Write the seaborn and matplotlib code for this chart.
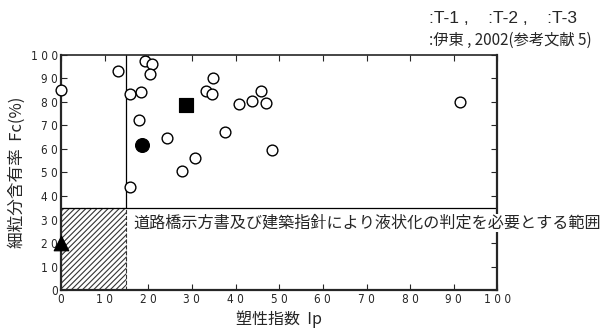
import pandas as pd
import matplotlib.pyplot as plt
import seaborn as sns
from matplotlib.patches import Rectangle

# Data (Ip = plasticity index, Fc = fines content %)
ito_ip = [0, 13, 15.8, 18.3, 19.3, 20.9, 20.3, 17.8, 15.8, 24.2, 27.8, 30.8,
          33.3, 34.6, 34.9, 37.6, 40.8, 43.8, 45.8, 46.9, 48.4, 91.5]
ito_fc = [85.2, 93.2, 83.3, 84.3, 97.3, 96.3, 91.8, 72.5, 43.8, 64.7, 50.5, 56.2,
          84.7, 83.5, 90.3, 67.4, 79.0, 80.4, 84.7, 79.4, 59.4, 79.9]
t1_ip, t1_fc = [18.6], [61.6]
t2_ip, t2_fc = [28.7], [78.9]
t3_ip, t3_fc = [0.0], [20.0]

tick_vals = list(range(0, 101, 10))
tick_labels = [' '.join(str(v)) for v in tick_vals]

ito = pd.DataFrame({'Ip': ito_ip, 'Fc': ito_fc})
t1 = pd.DataFrame({'Ip': t1_ip, 'Fc': t1_fc})
t2 = pd.DataFrame({'Ip': t2_ip, 'Fc': t2_fc})
t3 = pd.DataFrame({'Ip': t3_ip, 'Fc': t3_fc})

sns.set_style('ticks')
plt.rcParams['font.family'] = ['Noto Sans CJK JP', 'DejaVu Sans']
plt.rcParams['hatch.linewidth'] = 0.8

fig = plt.figure(figsize=(6.13, 3.33), dpi=100)
ax = fig.add_axes([0.0995, 0.129, 0.712, 0.706])

# hatched zone (Ip < 15, Fc < 35)
ax.add_patch(Rectangle((0, 0), 15, 35, facecolor='white', edgecolor='#333333',
                       hatch='//////', linestyle='--', linewidth=0.8, zorder=1))
ax.plot([0, 100], [35, 35], color='black', lw=0.9, zorder=2)
ax.plot([15, 15], [35, 100], color='black', lw=0.9, zorder=2)

sns.scatterplot(data=ito, x='Ip', y='Fc', ax=ax, marker='o', s=60,
                facecolor='white', edgecolor='black', linewidth=1.0, zorder=5, clip_on=False)
sns.scatterplot(data=t1, x='Ip', y='Fc', ax=ax, marker='o', s=100,
                color='black', edgecolor='black', zorder=5)
sns.scatterplot(data=t2, x='Ip', y='Fc', ax=ax, marker='s', s=110,
                color='black', edgecolor='black', zorder=5)
sns.scatterplot(data=t3, x='Ip', y='Fc', ax=ax, marker='^', s=110,
                color='black', edgecolor='black', zorder=6, clip_on=False)

ax.set_xlim(0, 100)
ax.set_ylim(0, 100)
ax.set_xticks(tick_vals)
ax.set_yticks(tick_vals)
ax.set_xticklabels(tick_labels, fontsize=8.5, family='DejaVu Sans', fontstretch='condensed')
ax.set_yticklabels(tick_labels, fontsize=8.5, family='DejaVu Sans', fontstretch='condensed')
ax.tick_params(direction='in', top=True, right=True, length=4, width=0.8, pad=2)
for s in ax.spines.values():
    s.set_linewidth(1.6)
ax.spines['top'].set_linewidth(1.2)

ax.set_xlabel('塑性指数  Ip', fontsize=11.5, labelpad=3)
ax.set_ylabel('細粒分含有率  Fc(%)', fontsize=12, labelpad=4)

ax.text(16.5, 28.5, '道路橋示方書及び建築指針により液状化の判定を必要とする範囲',
        fontsize=11.6, va='center', ha='left', clip_on=False, zorder=7,
        bbox=dict(facecolor='white', edgecolor='none', pad=0.5))

fig.text(0.70, 0.945, ':T-1 ,    :T-2 ,    :T-3', fontsize=12.5, va='center', ha='left',
         family='Liberation Sans')
fig.text(0.70, 0.88, ':伊東 , 2002(参考文献 5)', fontsize=11, va='center', ha='left')

fig.savefig('out.png', dpi=100)
